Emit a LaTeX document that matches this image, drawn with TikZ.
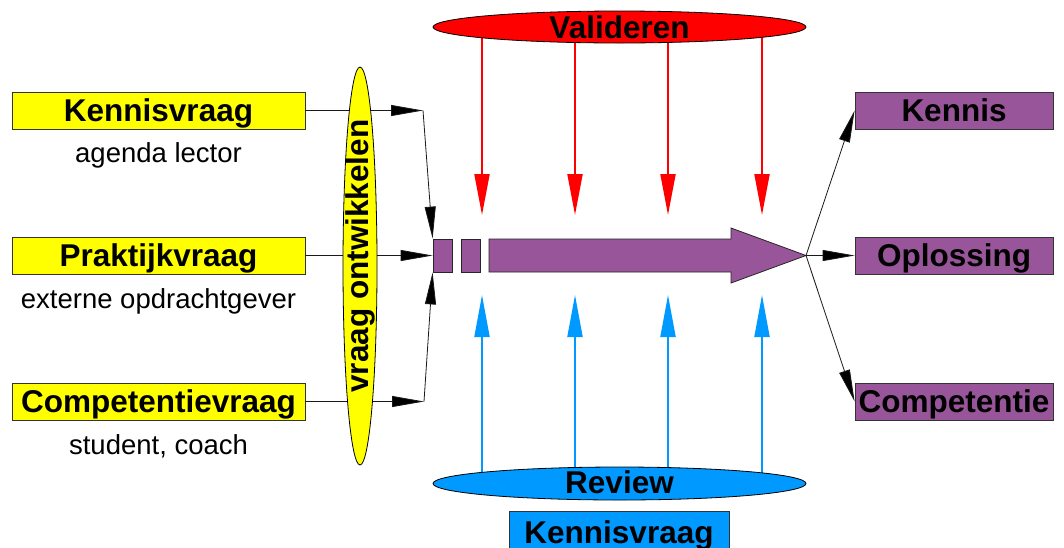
\documentclass[tikz,border=0pt]{standalone}
\usepackage{fontspec}
\setmainfont{Liberation Sans}
\usetikzlibrary{arrows.meta,shapes.geometric}
\definecolor{ylw}{HTML}{FFFF00}
\definecolor{prp}{HTML}{995599}
\definecolor{rd}{HTML}{FF0000}
\definecolor{bl}{HTML}{0099FF}
\tikzset{
  big/.style={font=\fontsize{31.5}{36}\selectfont\bfseries},
  small/.style={font=\fontsize{27.5}{32}\selectfont},
  qbox/.style={big, draw=black!80, line width=0.8pt, fill=ylw, minimum width=293pt, minimum height=37pt, inner sep=0pt, text height=22pt, text depth=0pt},
  rbox/.style={big, draw=black!80, line width=0.8pt, fill=prp, minimum width=198pt, minimum height=37pt, inner sep=0pt, text height=22pt, text depth=0pt},
  conn/.style={draw=black!90, line width=0.8pt, -{Triangle[length=32pt,width=11pt,fill=black]}},
  redarr/.style={draw=rd, line width=2pt, -{Triangle[length=41pt,width=15pt]}},
  bluarr/.style={draw=bl, line width=2pt, -{Triangle[length=42pt,width=15pt]}},
  oval/.style={ellipse, draw=black, line width=0.8pt, inner sep=0pt},
  piece/.style={draw=black!85, line width=0.8pt, fill=prp, minimum width=19pt, minimum height=33pt, inner sep=0pt},
}
\begin{document}
\begin{tikzpicture}[x=1pt,y=-1pt]
\clip (0,0) rectangle (1064,547);
\fill[white] (0,0) rectangle (1064,547);

% left question boxes
\node[qbox] (kv) at (158.5,110.5) {Kennisvraag};
\node[qbox] (pv) at (158.5,255.5) {Praktijkvraag};
\node[qbox] (cv) at (158.5,401.5) {Competentievraag};
\node[small, anchor=base] (kvs) at (158.5,162) {agenda lector};
\node[small, anchor=base] (pvs) at (158.5,308) {externe opdrachtgever};
\node[small, anchor=base] (cvs) at (158.5,454) {student, coach};

% purple process pieces
\node[piece] (p1) at (442.5,255.5) {};
\node[piece] (p2) at (470.5,255.5) {};
\coordinate (tip) at (806,255.5);
\draw[draw=black!85, line width=0.8pt, fill=prp] (489,239) -- (731,239) -- (731,228) -- (tip) -- (731,283) -- (731,272) -- (489,272) -- cycle;

% connectors left
\coordinate (c1) at (423,110.5);
\coordinate (c3) at (424,401.5);
\draw[conn] (kv.east) -- (c1);
\draw[conn] (c1) -- (p1.north west);
\draw[conn] (pv.east) -- (p1.west);
\draw[conn] (cv.east) -- (c3);
\draw[conn] (c3) -- (p1.south west);

% yellow ellipse
\node[oval, fill=ylw, minimum width=34pt, minimum height=398pt] (vo) at (360,266) {};
\node[big, rotate=90] (vot) at (360,256) {vraag ontwikkelen};

% right result boxes
\node[rbox] (ken) at (954,110.5) {Kennis};
\node[rbox] (opl) at (954,255.5) {Oplossing};
\node[rbox] (com) at (954,401.5) {Competentie};
\draw[conn] (tip) -- (ken.west);
\draw[conn] (tip) -- (opl.west);
\draw[conn] (tip) -- (com.west);

% validation and review
\coordinate (valc) at (619.5,27);
\coordinate (revc) at (619.5,483.5);
\coordinate (v1) at (482,215);
\coordinate (v2) at (575,215);
\coordinate (v3) at (668,215);
\coordinate (v4) at (762,215);
\coordinate (r1) at (482,295);
\coordinate (r2) at (575,295);
\coordinate (r3) at (668,295);
\coordinate (r4) at (762,295);
\foreach \i in {1,2,3,4} {
  \draw[redarr] (v\i |- valc) -- (v\i);
  \draw[bluarr] (r\i |- revc) -- (r\i);
}
\node[oval, fill=rd, minimum width=373pt, minimum height=32pt] (val) at (valc) {};
\node[oval, fill=bl, minimum width=373pt, minimum height=33pt] (rev) at (revc) {};
\node[big, anchor=base] (valt) at (619.5,38.5) {Valideren};
\node[big, anchor=base] (revt) at (619.5,493.5) {Review};

\node[big, draw=black!80, line width=0.8pt, fill=bl, minimum width=220pt, minimum height=42pt, inner sep=0pt, text height=22pt, text depth=0pt] (kvb) at (619,532) {Kennisvraag};
\end{tikzpicture}
\end{document}
